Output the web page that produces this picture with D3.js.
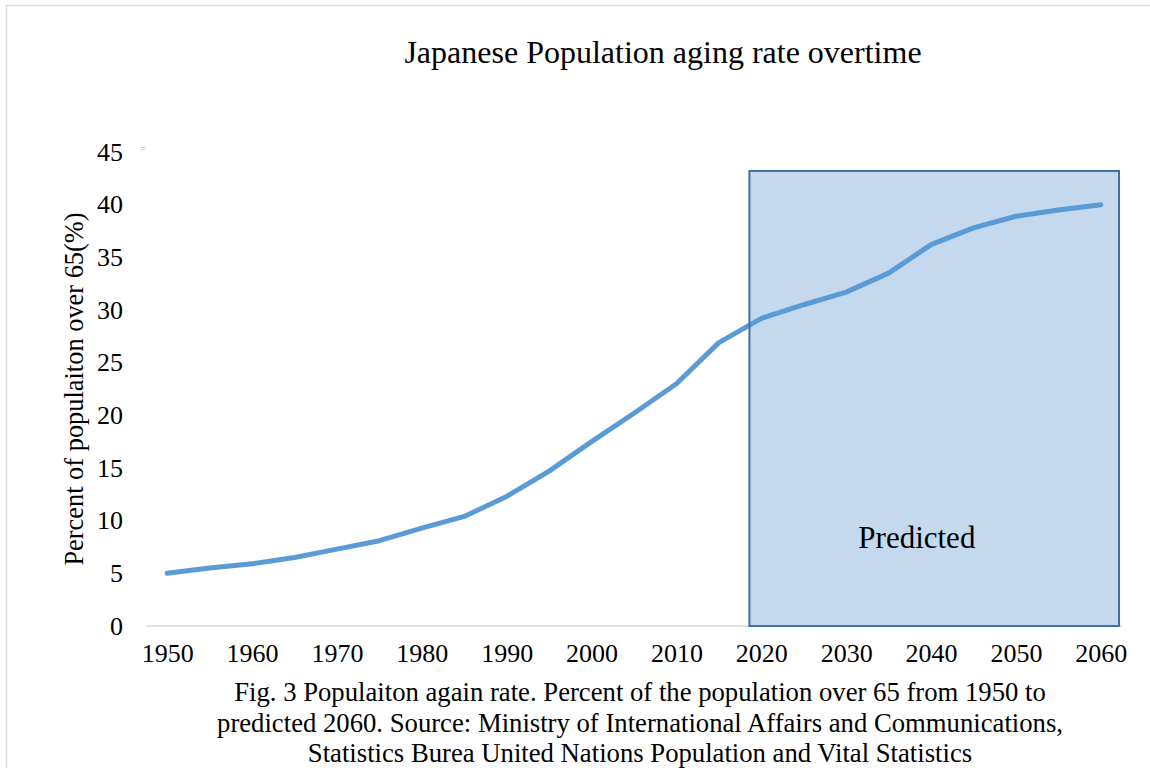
<!DOCTYPE html>
<html>
<head>
<meta charset="utf-8">
<script src="https://cdn.jsdelivr.net/npm/d3@7/dist/d3.min.js"></script>
<style>
  html, body { margin: 0; padding: 0; background: #fff; }
  svg { display: block; }
</style>
</head>
<body>
<svg id="chart" width="1150" height="768"></svg>
<script>
// ---- data ----
const years = ["1950","1955","1960","1965","1970","1975","1980","1985","1990","1995","2000","2005",
               "2010","2015","2020","2025","2030","2035","2040","2045","2050","2055","2060"];
const agingRate = [5.0, 5.5, 5.9, 6.5, 7.3, 8.1, 9.3, 10.4, 12.3, 14.7, 17.5, 20.2,
                   23.0, 26.9, 29.2, 30.5, 31.7, 33.5, 36.2, 37.8, 38.9, 39.5, 40.0];
const xTickLabels = ["1950","1960","1970","1980","1990","2000","2010","2020","2030","2040","2050","2060"];
const yTicks = [0, 5, 10, 15, 20, 25, 30, 35, 40, 45];
const predictedFrom = "2020";
const predictedTo = "2060";
const predictedTop = 43.2;
const titleText = "Japanese Population aging rate overtime";
const yAxisTitle = "Percent of populaiton over 65(%)";
const predictedLabel = "Predicted";
const captionLines = [
  "Fig. 3 Populaiton again rate. Percent of the population over 65 from 1950 to",
  "predicted 2060. Source: Ministry of International Affairs and Communications,",
  "Statistics Burea United Nations Population and Vital Statistics"
];

// ---- layout ----
const FONT = "'Liberation Serif', 'Times New Roman', serif";
const svg = d3.select("#chart");
const plotLeft = 146, plotRight = 1122, plotTop = 152, plotBottom = 626;

const x = d3.scalePoint().domain(years).range([plotLeft, plotRight]).padding(0.5);
const y = d3.scaleLinear().domain([0, 45]).range([plotBottom, plotTop]);
const step = x.step();

// outer frame
svg.append("rect").attr("x", 6.5).attr("y", 5.5).attr("width", 1160).attr("height", 780)
  .attr("fill", "none").attr("stroke", "#d9d9d9").attr("stroke-width", 1.5);

// title
svg.append("text").attr("x", 663).attr("y", 63).attr("text-anchor", "middle")
  .attr("font-family", FONT).attr("font-size", 32).attr("fill", "#000").text(titleText);

// zero gridline
svg.append("line").attr("x1", plotLeft).attr("x2", plotRight)
  .attr("y1", y(0)).attr("y2", y(0)).attr("stroke", "#d9d9d9").attr("stroke-width", 1.5);

// predicted region fill
const pX0 = x(predictedFrom) - step * 0.28;
const pX1 = x(predictedTo) + step * 0.43;
svg.append("rect").attr("x", pX0).attr("y", y(predictedTop))
  .attr("width", pX1 - pX0).attr("height", y(0) - y(predictedTop))
  .attr("fill", "#c4d9ee");

// y axis labels
const yAxis = d3.axisLeft(y).tickValues(yTicks).tickSize(0).tickPadding(0);
const gy = svg.append("g").attr("transform", "translate(123,0)").call(yAxis)
  .attr("font-family", FONT).attr("font-size", 26);
gy.select(".domain").remove();
gy.selectAll("text").attr("fill", "#000");

// x axis labels
const xAxis = d3.axisBottom(x).tickValues(xTickLabels).tickSize(0).tickPadding(0);
const gx = svg.append("g").attr("transform", "translate(0,644)").call(xAxis)
  .attr("font-family", FONT).attr("font-size", 26);
gx.select(".domain").remove();
gx.selectAll("text").attr("fill", "#000");

// line
const line = d3.line().x((d, i) => x(years[i])).y(d => y(d));
svg.append("path").datum(agingRate).attr("d", line)
  .attr("fill", "none").attr("stroke", "#5b9bd5").attr("stroke-width", 5)
  .attr("stroke-linejoin", "round").attr("stroke-linecap", "round");

// predicted region border
svg.append("rect").attr("x", pX0).attr("y", y(predictedTop))
  .attr("width", pX1 - pX0).attr("height", y(0) - y(predictedTop))
  .attr("fill", "none").attr("stroke", "#41719c").attr("stroke-width", 2);

svg.append("text").attr("x", pX0 + (pX1 - pX0) * 0.453).attr("y", 548).attr("text-anchor", "middle")
  .attr("font-family", FONT).attr("font-size", 31).attr("fill", "#000").text(predictedLabel);

// stray mark
svg.append("text").attr("x", 143).attr("y", 153).attr("text-anchor", "middle")
  .attr("font-family", FONT).attr("font-size", 12).attr("fill", "#c8c8c8").text("=");

// y axis title
svg.append("text").attr("transform", "translate(83,389) rotate(-90)").attr("text-anchor", "middle")
  .attr("font-family", FONT).attr("font-size", 26.4).attr("fill", "#000").text(yAxisTitle);

// caption
svg.selectAll("text.caption").data(captionLines).enter().append("text")
  .attr("class", "caption").attr("x", 640).attr("y", (d, i) => 701 + i * 30.5)
  .attr("text-anchor", "middle").attr("font-family", FONT).attr("font-size", 26.7)
  .attr("fill", "#000").text(d => d);
</script>
</body>
</html>
